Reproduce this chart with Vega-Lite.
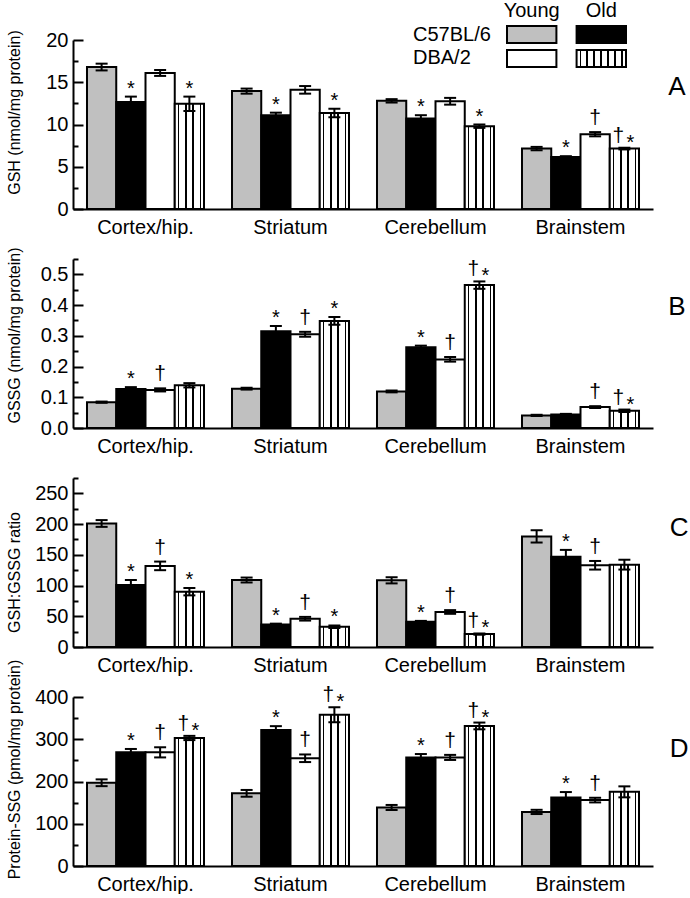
{
  "$schema": "https://vega.github.io/schema/vega-lite/v6.json",
  "background": "white",
  "padding": {"left": 5, "top": 0, "right": 0, "bottom": 0},
  "autosize": {"type": "pad"},
  "config": {
    "view": {"stroke": null},
    "font": "Liberation Sans",
    "axis": {"labelFont": "Liberation Sans", "titleFont": "Liberation Sans", "labelColor": "black", "titleColor": "black", "domainColor": "black", "tickColor": "black", "domainWidth": 2, "tickWidth": 2, "grid": false},
    "title": {"font": "Liberation Sans", "color": "black"}
  },
  "datasets": {
    "bars": [
      {"panel":"A","region":"Cortex/hip.","grp":"C57BL/6 Young","v":16.8,"lo":16.4,"hi":17.2,"sig":""},
      {"panel":"A","region":"Cortex/hip.","grp":"C57BL/6 Old","v":12.65,"lo":12.0,"hi":13.3,"sig":"*"},
      {"panel":"A","region":"Cortex/hip.","grp":"DBA/2 Young","v":16.1,"lo":15.75,"hi":16.45,"sig":""},
      {"panel":"A","region":"Cortex/hip.","grp":"DBA/2 Old","v":12.45,"lo":11.6,"hi":13.3,"sig":"*"},
      {"panel":"A","region":"Striatum","grp":"C57BL/6 Young","v":13.95,"lo":13.65,"hi":14.25,"sig":""},
      {"panel":"A","region":"Striatum","grp":"C57BL/6 Old","v":11.1,"lo":10.8,"hi":11.4,"sig":"*"},
      {"panel":"A","region":"Striatum","grp":"DBA/2 Young","v":14.1,"lo":13.65,"hi":14.55,"sig":""},
      {"panel":"A","region":"Striatum","grp":"DBA/2 Old","v":11.35,"lo":10.85,"hi":11.85,"sig":"*"},
      {"panel":"A","region":"Cerebellum","grp":"C57BL/6 Young","v":12.8,"lo":12.6,"hi":13.0,"sig":""},
      {"panel":"A","region":"Cerebellum","grp":"C57BL/6 Old","v":10.7,"lo":10.3,"hi":11.1,"sig":"*"},
      {"panel":"A","region":"Cerebellum","grp":"DBA/2 Young","v":12.75,"lo":12.35,"hi":13.15,"sig":""},
      {"panel":"A","region":"Cerebellum","grp":"DBA/2 Old","v":9.8,"lo":9.6,"hi":10.0,"sig":"*"},
      {"panel":"A","region":"Brainstem","grp":"C57BL/6 Young","v":7.15,"lo":6.95,"hi":7.35,"sig":""},
      {"panel":"A","region":"Brainstem","grp":"C57BL/6 Old","v":6.15,"lo":6.05,"hi":6.25,"sig":"*"},
      {"panel":"A","region":"Brainstem","grp":"DBA/2 Young","v":8.85,"lo":8.6,"hi":9.1,"sig":"†"},
      {"panel":"A","region":"Brainstem","grp":"DBA/2 Old","v":7.15,"lo":7.05,"hi":7.25,"sig":"†*"},

      {"panel":"B","region":"Cortex/hip.","grp":"C57BL/6 Young","v":0.084,"lo":0.082,"hi":0.086,"sig":""},
      {"panel":"B","region":"Cortex/hip.","grp":"C57BL/6 Old","v":0.127,"lo":0.121,"hi":0.133,"sig":"*"},
      {"panel":"B","region":"Cortex/hip.","grp":"DBA/2 Young","v":0.124,"lo":0.119,"hi":0.129,"sig":"†"},
      {"panel":"B","region":"Cortex/hip.","grp":"DBA/2 Old","v":0.139,"lo":0.132,"hi":0.146,"sig":""},
      {"panel":"B","region":"Striatum","grp":"C57BL/6 Young","v":0.128,"lo":0.125,"hi":0.131,"sig":""},
      {"panel":"B","region":"Striatum","grp":"C57BL/6 Old","v":0.315,"lo":0.298,"hi":0.332,"sig":"*"},
      {"panel":"B","region":"Striatum","grp":"DBA/2 Young","v":0.305,"lo":0.297,"hi":0.313,"sig":"†"},
      {"panel":"B","region":"Striatum","grp":"DBA/2 Old","v":0.348,"lo":0.336,"hi":0.361,"sig":"*"},
      {"panel":"B","region":"Cerebellum","grp":"C57BL/6 Young","v":0.119,"lo":0.116,"hi":0.122,"sig":""},
      {"panel":"B","region":"Cerebellum","grp":"C57BL/6 Old","v":0.263,"lo":0.258,"hi":0.268,"sig":"*"},
      {"panel":"B","region":"Cerebellum","grp":"DBA/2 Young","v":0.223,"lo":0.216,"hi":0.231,"sig":"†"},
      {"panel":"B","region":"Cerebellum","grp":"DBA/2 Old","v":0.465,"lo":0.453,"hi":0.477,"sig":"†*"},
      {"panel":"B","region":"Brainstem","grp":"C57BL/6 Young","v":0.041,"lo":0.039,"hi":0.043,"sig":""},
      {"panel":"B","region":"Brainstem","grp":"C57BL/6 Old","v":0.044,"lo":0.042,"hi":0.046,"sig":""},
      {"panel":"B","region":"Brainstem","grp":"DBA/2 Young","v":0.068,"lo":0.065,"hi":0.071,"sig":"†"},
      {"panel":"B","region":"Brainstem","grp":"DBA/2 Old","v":0.056,"lo":0.052,"hi":0.06,"sig":"†*"},

      {"panel":"C","region":"Cortex/hip.","grp":"C57BL/6 Young","v":201,"lo":195.5,"hi":206.5,"sig":""},
      {"panel":"C","region":"Cortex/hip.","grp":"C57BL/6 Old","v":101,"lo":93,"hi":109,"sig":"*"},
      {"panel":"C","region":"Cortex/hip.","grp":"DBA/2 Young","v":132,"lo":125,"hi":139,"sig":"†"},
      {"panel":"C","region":"Cortex/hip.","grp":"DBA/2 Old","v":90,"lo":84,"hi":96,"sig":"*"},
      {"panel":"C","region":"Striatum","grp":"C57BL/6 Young","v":109,"lo":105,"hi":113,"sig":""},
      {"panel":"C","region":"Striatum","grp":"C57BL/6 Old","v":36.5,"lo":35,"hi":38,"sig":"*"},
      {"panel":"C","region":"Striatum","grp":"DBA/2 Young","v":46,"lo":43,"hi":49,"sig":"†"},
      {"panel":"C","region":"Striatum","grp":"DBA/2 Old","v":33,"lo":31,"hi":35,"sig":"*"},
      {"panel":"C","region":"Cerebellum","grp":"C57BL/6 Young","v":108.5,"lo":103.5,"hi":113.5,"sig":""},
      {"panel":"C","region":"Cerebellum","grp":"C57BL/6 Old","v":41,"lo":39.5,"hi":42.5,"sig":"*"},
      {"panel":"C","region":"Cerebellum","grp":"DBA/2 Young","v":57,"lo":54,"hi":60,"sig":"†"},
      {"panel":"C","region":"Cerebellum","grp":"DBA/2 Old","v":21,"lo":20,"hi":22,"sig":"†*"},
      {"panel":"C","region":"Brainstem","grp":"C57BL/6 Young","v":180,"lo":170,"hi":190,"sig":""},
      {"panel":"C","region":"Brainstem","grp":"C57BL/6 Old","v":147,"lo":137,"hi":158,"sig":"*"},
      {"panel":"C","region":"Brainstem","grp":"DBA/2 Young","v":133,"lo":126,"hi":140,"sig":"†"},
      {"panel":"C","region":"Brainstem","grp":"DBA/2 Old","v":134,"lo":126,"hi":142,"sig":""},

      {"panel":"D","region":"Cortex/hip.","grp":"C57BL/6 Young","v":197,"lo":189,"hi":205,"sig":""},
      {"panel":"D","region":"Cortex/hip.","grp":"C57BL/6 Old","v":269,"lo":261,"hi":277,"sig":"*"},
      {"panel":"D","region":"Cortex/hip.","grp":"DBA/2 Young","v":269,"lo":257,"hi":281,"sig":"†"},
      {"panel":"D","region":"Cortex/hip.","grp":"DBA/2 Old","v":303,"lo":298,"hi":308,"sig":"†*"},
      {"panel":"D","region":"Striatum","grp":"C57BL/6 Young","v":172,"lo":164,"hi":180,"sig":""},
      {"panel":"D","region":"Striatum","grp":"C57BL/6 Old","v":322,"lo":313,"hi":331,"sig":"*"},
      {"panel":"D","region":"Striatum","grp":"DBA/2 Young","v":255,"lo":246,"hi":264,"sig":"†"},
      {"panel":"D","region":"Striatum","grp":"DBA/2 Old","v":358,"lo":340,"hi":376,"sig":"†*"},
      {"panel":"D","region":"Cerebellum","grp":"C57BL/6 Young","v":138.5,"lo":132.5,"hi":144.5,"sig":""},
      {"panel":"D","region":"Cerebellum","grp":"C57BL/6 Old","v":257,"lo":249,"hi":265,"sig":"*"},
      {"panel":"D","region":"Cerebellum","grp":"DBA/2 Young","v":257,"lo":251,"hi":263,"sig":"†"},
      {"panel":"D","region":"Cerebellum","grp":"DBA/2 Old","v":331.5,"lo":323.5,"hi":339.5,"sig":"†*"},
      {"panel":"D","region":"Brainstem","grp":"C57BL/6 Young","v":128,"lo":123,"hi":133,"sig":""},
      {"panel":"D","region":"Brainstem","grp":"C57BL/6 Old","v":162,"lo":149,"hi":175,"sig":"*"},
      {"panel":"D","region":"Brainstem","grp":"DBA/2 Young","v":156,"lo":150.5,"hi":161.5,"sig":"†"},
      {"panel":"D","region":"Brainstem","grp":"DBA/2 Old","v":175.5,"lo":162.5,"hi":188.5,"sig":""}
    ],
    "legendBoxes": [
      {"strain":"C57BL/6","age":"Young","grp":"C57BL/6 Young"},
      {"strain":"C57BL/6","age":"Old","grp":"C57BL/6 Old"},
      {"strain":"DBA/2","age":"Young","grp":"DBA/2 Young"},
      {"strain":"DBA/2","age":"Old","grp":"DBA/2 Old"}
    ],
    "legendHead": [
      {"strain":"hdr","age":"Young"},
      {"strain":"hdr","age":"Old"}
    ],
    "legendLabels": [
      {"strain":"C57BL/6","age":"Young"},
      {"strain":"DBA/2","age":"Young"}
    ]
  },
  "vconcat": [
    {
      "width": 580, "height": 169,
      "title": {"text": "A", "orient": "right", "anchor": "middle", "angle": 0, "frame": "group", "offset": -2, "align": "left", "baseline": "middle", "dy": -38, "fontSize": 26, "fontWeight": "normal"},
      "layer": [
        {
          "data": {"name": "bars"},
          "transform": [{"filter": "datum.panel === 'A'"}],
          "encoding": {
            "x": {"field": "region", "type": "nominal", "sort": ["Cortex/hip.","Striatum","Cerebellum","Brainstem"], "scale": {"paddingInner": 0.193, "paddingOuter": 0.0965}, "axis": {"title": null, "ticks": false, "labelAngle": 0, "labelFontSize": 20, "labelPadding": 8}},
            "xOffset": {"field": "grp", "type": "nominal", "sort": ["C57BL/6 Young","C57BL/6 Old","DBA/2 Young","DBA/2 Old"], "scale": {"domain": ["C57BL/6 Young","C57BL/6 Old","DBA/2 Young","DBA/2 Old"], "paddingInner": 0, "paddingOuter": 0}},
            "y": {"type": "quantitative", "scale": {"domain": [0, 20], "nice": false}, "axis": {"title": "GSH (nmol/mg protein)", "titleFontSize": 16, "titleFontWeight": "normal", "titleX": -59, "titleY": 72, "titleBaseline": "middle", "values": [0,2.5,5,7.5,10,12.5,15,17.5,20], "labelExpr": "datum.value % 5 === 0 ? datum.label : ''", "labelFontSize": 20, "labelPadding": 15, "tickSize": {"condition": {"test": "datum.value % 5 === 0", "value": -10}, "value": -5}}}
          },
          "layer": [
            {"transform": [{"filter": "datum.grp !== 'DBA/2 Old'"}], "mark": {"type": "bar", "stroke": "black", "strokeWidth": 2}, "encoding": {"y": {"field": "v"}, "fill": {"field": "grp", "type": "nominal", "scale": {"domain": ["C57BL/6 Young","C57BL/6 Old","DBA/2 Young"], "range": ["#c0c0c0","#000000","#ffffff"]}, "legend": null}}},
            {"transform": [{"filter": "datum.grp === 'DBA/2 Old'"}], "mark": {"type": "bar", "stroke": "black", "strokeWidth": 2, "fill": {"gradient": "linear", "x1": 0, "y1": 0, "x2": 1, "y2": 0, "stops": [{"offset":0,"color":"white"},{"offset":0.1,"color":"white"},{"offset":0.1,"color":"black"},{"offset":0.155,"color":"black"},{"offset":0.155,"color":"white"},{"offset":0.35,"color":"white"},{"offset":0.35,"color":"black"},{"offset":0.405,"color":"black"},{"offset":0.405,"color":"white"},{"offset":0.6,"color":"white"},{"offset":0.6,"color":"black"},{"offset":0.655,"color":"black"},{"offset":0.655,"color":"white"},{"offset":0.85,"color":"white"},{"offset":0.85,"color":"black"},{"offset":0.905,"color":"black"},{"offset":0.905,"color":"white"},{"offset":1,"color":"white"}]}}, "encoding": {"y": {"field": "v"}}},
            {"mark": {"type": "rule", "color": "black", "strokeWidth": 2}, "encoding": {"y": {"field": "lo"}, "y2": {"field": "hi"}}},
            {"mark": {"type": "tick", "color": "black", "size": 12, "thickness": 2, "opacity": 1}, "encoding": {"y": {"field": "lo"}}},
            {"mark": {"type": "tick", "color": "black", "size": 12, "thickness": 2, "opacity": 1}, "encoding": {"y": {"field": "hi"}}},
            {"transform": [{"filter": "datum.sig === '*'"}], "mark": {"type": "text", "fontSize": 20, "fill": "black", "baseline": "alphabetic", "dy": -2}, "encoding": {"y": {"field": "hi"}, "text": {"field": "sig"}}},
            {"transform": [{"filter": "datum.sig === '†'"}], "mark": {"type": "text", "fontSize": 21, "fill": "black", "baseline": "alphabetic", "dy": -8}, "encoding": {"y": {"field": "hi"}, "text": {"field": "sig"}}},
            {"transform": [{"filter": "datum.sig === '†*'"}], "mark": {"type": "text", "fontSize": 21, "fill": "black", "baseline": "alphabetic", "dy": -6, "dx": -6}, "encoding": {"y": {"field": "hi"}, "text": {"value": "†"}}},
            {"transform": [{"filter": "datum.sig === '†*'"}], "mark": {"type": "text", "fontSize": 20, "fill": "black", "baseline": "alphabetic", "dy": 1, "dx": 6}, "encoding": {"y": {"field": "hi"}, "text": {"value": "*"}}}
          ]
        },
        {
          "encoding": {
            "x": {"field": "age", "type": "nominal", "scale": {"domain": ["Young","Old"], "range": [434, 553], "paddingInner": 0.29, "paddingOuter": 0}, "axis": null},
            "y": {"field": "strain", "type": "nominal", "scale": {"domain": ["hdr","C57BL/6","DBA/2"], "range": [-38, 27], "paddingInner": 0.29, "paddingOuter": 0}, "axis": null}
          },
          "layer": [
            {"data": {"name": "legendBoxes"}, "transform": [{"filter": "datum.grp !== 'DBA/2 Old'"}], "mark": {"type": "rect", "stroke": "black", "strokeWidth": 2}, "encoding": {"fill": {"field": "grp", "type": "nominal", "legend": null}}},
            {"data": {"name": "legendBoxes"}, "transform": [{"filter": "datum.grp === 'DBA/2 Old'"}], "mark": {"type": "rect", "stroke": "black", "strokeWidth": 2, "fill": {"gradient": "linear", "x1": 0, "y1": 0, "x2": 1, "y2": 0, "stops": [{"offset":0,"color":"white"},{"offset":0.06,"color":"white"},{"offset":0.06,"color":"black"},{"offset":0.09,"color":"black"},{"offset":0.09,"color":"white"},{"offset":0.2,"color":"white"},{"offset":0.2,"color":"black"},{"offset":0.23,"color":"black"},{"offset":0.23,"color":"white"},{"offset":0.34,"color":"white"},{"offset":0.34,"color":"black"},{"offset":0.37,"color":"black"},{"offset":0.37,"color":"white"},{"offset":0.48,"color":"white"},{"offset":0.48,"color":"black"},{"offset":0.51,"color":"black"},{"offset":0.51,"color":"white"},{"offset":0.62,"color":"white"},{"offset":0.62,"color":"black"},{"offset":0.65,"color":"black"},{"offset":0.65,"color":"white"},{"offset":0.76,"color":"white"},{"offset":0.76,"color":"black"},{"offset":0.79,"color":"black"},{"offset":0.79,"color":"white"},{"offset":0.9,"color":"white"},{"offset":0.9,"color":"black"},{"offset":0.93,"color":"black"},{"offset":0.93,"color":"white"},{"offset":1,"color":"white"}]}}},
            {"data": {"name": "legendHead"}, "mark": {"type": "text", "fontSize": 20, "fill": "black", "baseline": "middle"}, "encoding": {"text": {"field": "age"}}},
            {"data": {"name": "legendLabels"}, "mark": {"type": "text", "fontSize": 20, "fill": "black", "baseline": "middle", "align": "left", "dx": -94}, "encoding": {"x": {"field": "age", "type": "nominal", "bandPosition": 0}, "text": {"field": "strain"}}}
          ]
        }
      ],
      "resolve": {"scale": {"x": "independent", "y": "independent"}}
    },
    {
      "width": 580, "height": 169,
      "title": {"text": "B", "orient": "right", "anchor": "middle", "angle": 0, "frame": "group", "offset": -2, "align": "left", "baseline": "middle", "dy": -37, "fontSize": 26, "fontWeight": "normal"},
      "data": {"name": "bars"},
      "transform": [{"filter": "datum.panel === 'B'"}],
      "encoding": {
        "x": {"field": "region", "type": "nominal", "sort": ["Cortex/hip.","Striatum","Cerebellum","Brainstem"], "scale": {"paddingInner": 0.193, "paddingOuter": 0.0965}, "axis": {"title": null, "ticks": false, "labelAngle": 0, "labelFontSize": 20, "labelPadding": 8}},
        "xOffset": {"field": "grp", "type": "nominal", "sort": ["C57BL/6 Young","C57BL/6 Old","DBA/2 Young","DBA/2 Old"], "scale": {"domain": ["C57BL/6 Young","C57BL/6 Old","DBA/2 Young","DBA/2 Old"], "paddingInner": 0, "paddingOuter": 0}},
        "y": {"type": "quantitative", "scale": {"domain": [0, 0.55], "nice": false}, "axis": {"title": "GSSG (nmol/mg protein)", "titleFontSize": 16, "titleFontWeight": "normal", "titleX": -59, "titleY": 76, "titleBaseline": "middle", "values": [0,0.05,0.1,0.15,0.2,0.25,0.3,0.35,0.4,0.45,0.5,0.55], "format": ".1f", "labelExpr": "round(datum.value * 100) % 10 === 0 ? datum.label : ''", "labelFontSize": 20, "labelPadding": 15, "tickSize": {"condition": {"test": "round(datum.value * 100) % 10 === 0", "value": -10}, "value": -5}}}
      },
      "layer": [
        {"transform": [{"filter": "datum.grp !== 'DBA/2 Old'"}], "mark": {"type": "bar", "stroke": "black", "strokeWidth": 2}, "encoding": {"y": {"field": "v"}, "fill": {"field": "grp", "type": "nominal", "scale": {"domain": ["C57BL/6 Young","C57BL/6 Old","DBA/2 Young"], "range": ["#c0c0c0","#000000","#ffffff"]}, "legend": null}}},
        {"transform": [{"filter": "datum.grp === 'DBA/2 Old'"}], "mark": {"type": "bar", "stroke": "black", "strokeWidth": 2, "fill": {"gradient": "linear", "x1": 0, "y1": 0, "x2": 1, "y2": 0, "stops": [{"offset":0,"color":"white"},{"offset":0.1,"color":"white"},{"offset":0.1,"color":"black"},{"offset":0.155,"color":"black"},{"offset":0.155,"color":"white"},{"offset":0.35,"color":"white"},{"offset":0.35,"color":"black"},{"offset":0.405,"color":"black"},{"offset":0.405,"color":"white"},{"offset":0.6,"color":"white"},{"offset":0.6,"color":"black"},{"offset":0.655,"color":"black"},{"offset":0.655,"color":"white"},{"offset":0.85,"color":"white"},{"offset":0.85,"color":"black"},{"offset":0.905,"color":"black"},{"offset":0.905,"color":"white"},{"offset":1,"color":"white"}]}}, "encoding": {"y": {"field": "v"}}},
        {"mark": {"type": "rule", "color": "black", "strokeWidth": 2}, "encoding": {"y": {"field": "lo"}, "y2": {"field": "hi"}}},
        {"mark": {"type": "tick", "color": "black", "size": 12, "thickness": 2, "opacity": 1}, "encoding": {"y": {"field": "lo"}}},
        {"mark": {"type": "tick", "color": "black", "size": 12, "thickness": 2, "opacity": 1}, "encoding": {"y": {"field": "hi"}}},
        {"transform": [{"filter": "datum.sig === '*'"}], "mark": {"type": "text", "fontSize": 20, "fill": "black", "baseline": "alphabetic", "dy": -2}, "encoding": {"y": {"field": "hi"}, "text": {"field": "sig"}}},
        {"transform": [{"filter": "datum.sig === '†'"}], "mark": {"type": "text", "fontSize": 21, "fill": "black", "baseline": "alphabetic", "dy": -8}, "encoding": {"y": {"field": "hi"}, "text": {"field": "sig"}}},
        {"transform": [{"filter": "datum.sig === '†*'"}], "mark": {"type": "text", "fontSize": 21, "fill": "black", "baseline": "alphabetic", "dy": -6, "dx": -6}, "encoding": {"y": {"field": "hi"}, "text": {"value": "†"}}},
        {"transform": [{"filter": "datum.sig === '†*'"}], "mark": {"type": "text", "fontSize": 20, "fill": "black", "baseline": "alphabetic", "dy": 1, "dx": 6}, "encoding": {"y": {"field": "hi"}, "text": {"value": "*"}}}
      ]
    },
    {
      "width": 580, "height": 169,
      "title": {"text": "C", "orient": "right", "anchor": "middle", "angle": 0, "frame": "group", "offset": -2, "align": "left", "baseline": "middle", "dy": -35, "fontSize": 26, "fontWeight": "normal"},
      "data": {"name": "bars"},
      "transform": [{"filter": "datum.panel === 'C'"}],
      "encoding": {
        "x": {"field": "region", "type": "nominal", "sort": ["Cortex/hip.","Striatum","Cerebellum","Brainstem"], "scale": {"paddingInner": 0.193, "paddingOuter": 0.0965}, "axis": {"title": null, "ticks": false, "labelAngle": 0, "labelFontSize": 20, "labelPadding": 8}},
        "xOffset": {"field": "grp", "type": "nominal", "sort": ["C57BL/6 Young","C57BL/6 Old","DBA/2 Young","DBA/2 Old"], "scale": {"domain": ["C57BL/6 Young","C57BL/6 Old","DBA/2 Young","DBA/2 Old"], "paddingInner": 0, "paddingOuter": 0}},
        "y": {"type": "quantitative", "scale": {"domain": [0, 275], "nice": false}, "axis": {"title": "GSH:GSSG ratio", "titleFontSize": 16, "titleFontWeight": "normal", "titleX": -59, "titleY": 94, "titleBaseline": "middle", "values": [0,25,50,75,100,125,150,175,200,225,250,275], "labelExpr": "datum.value % 50 === 0 ? datum.label : ''", "labelFontSize": 20, "labelPadding": 15, "tickSize": {"condition": {"test": "datum.value % 50 === 0", "value": -10}, "value": -5}}}
      },
      "layer": [
        {"transform": [{"filter": "datum.grp !== 'DBA/2 Old'"}], "mark": {"type": "bar", "stroke": "black", "strokeWidth": 2}, "encoding": {"y": {"field": "v"}, "fill": {"field": "grp", "type": "nominal", "scale": {"domain": ["C57BL/6 Young","C57BL/6 Old","DBA/2 Young"], "range": ["#c0c0c0","#000000","#ffffff"]}, "legend": null}}},
        {"transform": [{"filter": "datum.grp === 'DBA/2 Old'"}], "mark": {"type": "bar", "stroke": "black", "strokeWidth": 2, "fill": {"gradient": "linear", "x1": 0, "y1": 0, "x2": 1, "y2": 0, "stops": [{"offset":0,"color":"white"},{"offset":0.1,"color":"white"},{"offset":0.1,"color":"black"},{"offset":0.155,"color":"black"},{"offset":0.155,"color":"white"},{"offset":0.35,"color":"white"},{"offset":0.35,"color":"black"},{"offset":0.405,"color":"black"},{"offset":0.405,"color":"white"},{"offset":0.6,"color":"white"},{"offset":0.6,"color":"black"},{"offset":0.655,"color":"black"},{"offset":0.655,"color":"white"},{"offset":0.85,"color":"white"},{"offset":0.85,"color":"black"},{"offset":0.905,"color":"black"},{"offset":0.905,"color":"white"},{"offset":1,"color":"white"}]}}, "encoding": {"y": {"field": "v"}}},
        {"mark": {"type": "rule", "color": "black", "strokeWidth": 2}, "encoding": {"y": {"field": "lo"}, "y2": {"field": "hi"}}},
        {"mark": {"type": "tick", "color": "black", "size": 12, "thickness": 2, "opacity": 1}, "encoding": {"y": {"field": "lo"}}},
        {"mark": {"type": "tick", "color": "black", "size": 12, "thickness": 2, "opacity": 1}, "encoding": {"y": {"field": "hi"}}},
        {"transform": [{"filter": "datum.sig === '*'"}], "mark": {"type": "text", "fontSize": 20, "fill": "black", "baseline": "alphabetic", "dy": -2}, "encoding": {"y": {"field": "hi"}, "text": {"field": "sig"}}},
        {"transform": [{"filter": "datum.sig === '†'"}], "mark": {"type": "text", "fontSize": 21, "fill": "black", "baseline": "alphabetic", "dy": -8}, "encoding": {"y": {"field": "hi"}, "text": {"field": "sig"}}},
        {"transform": [{"filter": "datum.sig === '†*'"}], "mark": {"type": "text", "fontSize": 21, "fill": "black", "baseline": "alphabetic", "dy": -6, "dx": -6}, "encoding": {"y": {"field": "hi"}, "text": {"value": "†"}}},
        {"transform": [{"filter": "datum.sig === '†*'"}], "mark": {"type": "text", "fontSize": 20, "fill": "black", "baseline": "alphabetic", "dy": 1, "dx": 6}, "encoding": {"y": {"field": "hi"}, "text": {"value": "*"}}}
      ]
    },
    {
      "width": 580, "height": 169,
      "title": {"text": "D", "orient": "right", "anchor": "middle", "angle": 0, "frame": "group", "offset": -2, "align": "left", "baseline": "middle", "dy": -33, "fontSize": 26, "fontWeight": "normal"},
      "data": {"name": "bars"},
      "transform": [{"filter": "datum.panel === 'D'"}],
      "encoding": {
        "x": {"field": "region", "type": "nominal", "sort": ["Cortex/hip.","Striatum","Cerebellum","Brainstem"], "scale": {"paddingInner": 0.193, "paddingOuter": 0.0965}, "axis": {"title": null, "ticks": false, "labelAngle": 0, "labelFontSize": 20, "labelPadding": 8}},
        "xOffset": {"field": "grp", "type": "nominal", "sort": ["C57BL/6 Young","C57BL/6 Old","DBA/2 Young","DBA/2 Old"], "scale": {"domain": ["C57BL/6 Young","C57BL/6 Old","DBA/2 Young","DBA/2 Old"], "paddingInner": 0, "paddingOuter": 0}},
        "y": {"type": "quantitative", "scale": {"domain": [0, 400], "nice": false}, "axis": {"title": "Protein-SSG (pmol/mg protein)", "titleFontSize": 16, "titleFontWeight": "normal", "titleX": -59, "titleY": 72, "titleBaseline": "middle", "values": [0,50,100,150,200,250,300,350,400], "labelExpr": "datum.value % 100 === 0 ? datum.label : ''", "labelFontSize": 20, "labelPadding": 15, "tickSize": {"condition": {"test": "datum.value % 100 === 0", "value": -10}, "value": -5}}}
      },
      "layer": [
        {"transform": [{"filter": "datum.grp !== 'DBA/2 Old'"}], "mark": {"type": "bar", "stroke": "black", "strokeWidth": 2}, "encoding": {"y": {"field": "v"}, "fill": {"field": "grp", "type": "nominal", "scale": {"domain": ["C57BL/6 Young","C57BL/6 Old","DBA/2 Young"], "range": ["#c0c0c0","#000000","#ffffff"]}, "legend": null}}},
        {"transform": [{"filter": "datum.grp === 'DBA/2 Old'"}], "mark": {"type": "bar", "stroke": "black", "strokeWidth": 2, "fill": {"gradient": "linear", "x1": 0, "y1": 0, "x2": 1, "y2": 0, "stops": [{"offset":0,"color":"white"},{"offset":0.1,"color":"white"},{"offset":0.1,"color":"black"},{"offset":0.155,"color":"black"},{"offset":0.155,"color":"white"},{"offset":0.35,"color":"white"},{"offset":0.35,"color":"black"},{"offset":0.405,"color":"black"},{"offset":0.405,"color":"white"},{"offset":0.6,"color":"white"},{"offset":0.6,"color":"black"},{"offset":0.655,"color":"black"},{"offset":0.655,"color":"white"},{"offset":0.85,"color":"white"},{"offset":0.85,"color":"black"},{"offset":0.905,"color":"black"},{"offset":0.905,"color":"white"},{"offset":1,"color":"white"}]}}, "encoding": {"y": {"field": "v"}}},
        {"mark": {"type": "rule", "color": "black", "strokeWidth": 2}, "encoding": {"y": {"field": "lo"}, "y2": {"field": "hi"}}},
        {"mark": {"type": "tick", "color": "black", "size": 12, "thickness": 2, "opacity": 1}, "encoding": {"y": {"field": "lo"}}},
        {"mark": {"type": "tick", "color": "black", "size": 12, "thickness": 2, "opacity": 1}, "encoding": {"y": {"field": "hi"}}},
        {"transform": [{"filter": "datum.sig === '*'"}], "mark": {"type": "text", "fontSize": 20, "fill": "black", "baseline": "alphabetic", "dy": -2}, "encoding": {"y": {"field": "hi"}, "text": {"field": "sig"}}},
        {"transform": [{"filter": "datum.sig === '†'"}], "mark": {"type": "text", "fontSize": 21, "fill": "black", "baseline": "alphabetic", "dy": -8}, "encoding": {"y": {"field": "hi"}, "text": {"field": "sig"}}},
        {"transform": [{"filter": "datum.sig === '†*'"}], "mark": {"type": "text", "fontSize": 21, "fill": "black", "baseline": "alphabetic", "dy": -6, "dx": -6}, "encoding": {"y": {"field": "hi"}, "text": {"value": "†"}}},
        {"transform": [{"filter": "datum.sig === '†*'"}], "mark": {"type": "text", "fontSize": 20, "fill": "black", "baseline": "alphabetic", "dy": 1, "dx": 6}, "encoding": {"y": {"field": "hi"}, "text": {"value": "*"}}}
      ]
    }
  ],
  "spacing": 50,
  "bounds": "flush"
}
